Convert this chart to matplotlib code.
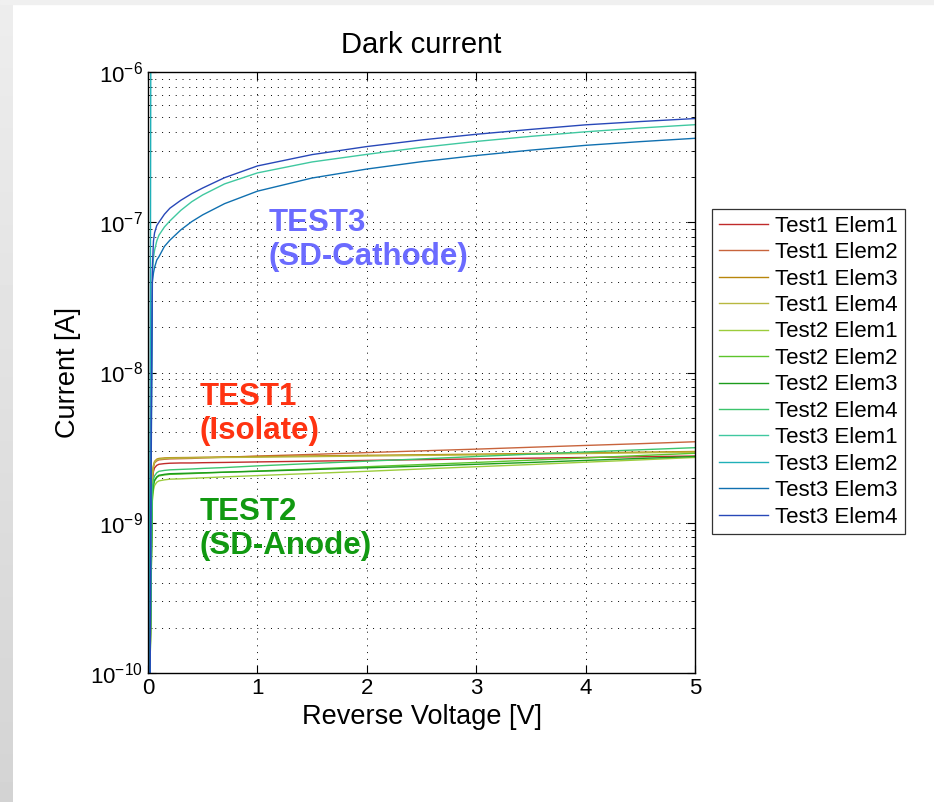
import numpy as np
import matplotlib
matplotlib.use('Agg')
import matplotlib.pyplot as plt
from matplotlib.patches import Rectangle
from matplotlib.ticker import LogLocator, NullFormatter, FixedLocator

plt.rcParams['font.family'] = ['Liberation Sans', 'DejaVu Sans']
plt.rcParams['mathtext.fontset'] = 'custom'
plt.rcParams['mathtext.rm'] = 'Liberation Sans'

# reverse voltage grid [V]
voltage = [0, 0.02, 0.03, 0.04, 0.05, 0.06, 0.08, 0.1, 0.15,
           0.2, 0.3, 0.4, 0.5, 0.7, 1, 1.5, 2, 2.5, 3, 3.5, 4, 4.5, 5]

# dark current [A] per element
test1_elem1 = [1e-11, 1.3e-10, 6e-10, 1.9e-9, 2.2e-9, 2.32e-9, 2.41e-9, 2.45e-9, 2.475e-9,
               2.49e-9, 2.50e-9, 2.50e-9, 2.51e-9, 2.52e-9, 2.54e-9, 2.57e-9, 2.60e-9, 2.63e-9, 2.66e-9, 2.69e-9, 2.72e-9, 2.75e-9, 2.78e-9]
test1_elem2 = [1e-11, 1.3e-10, 7e-10, 2.0e-9, 2.35e-9, 2.5e-9, 2.58e-9, 2.62e-9, 2.645e-9,
               2.66e-9, 2.67e-9, 2.68e-9, 2.70e-9, 2.73e-9, 2.78e-9, 2.85e-9, 2.93e-9, 3.01e-9, 3.09e-9, 3.18e-9, 3.27e-9, 3.36e-9, 3.46e-9]
test1_elem3 = [1e-11, 1.3e-10, 7e-10, 2.1e-9, 2.42e-9, 2.56e-9, 2.65e-9, 2.68e-9, 2.70e-9,
               2.71e-9, 2.715e-9, 2.72e-9, 2.73e-9, 2.74e-9, 2.76e-9, 2.785e-9, 2.81e-9, 2.835e-9, 2.86e-9, 2.89e-9, 2.92e-9, 2.95e-9, 2.98e-9]
test1_elem4 = [1e-11, 1.3e-10, 6.5e-10, 2.05e-9, 2.38e-9, 2.53e-9, 2.62e-9, 2.65e-9, 2.67e-9,
               2.69e-9, 2.695e-9, 2.70e-9, 2.71e-9, 2.72e-9, 2.73e-9, 2.755e-9, 2.78e-9, 2.805e-9, 2.83e-9, 2.86e-9, 2.89e-9, 2.92e-9, 2.95e-9]
test2_elem1 = [1e-11, 1.2e-10, 4.5e-10, 1.4e-9, 1.65e-9, 1.77e-9, 1.86e-9, 1.90e-9, 1.93e-9,
               1.95e-9, 1.96e-9, 1.975e-9, 1.99e-9, 2.02e-9, 2.06e-9, 2.13e-9, 2.20e-9, 2.28e-9, 2.36e-9, 2.44e-9, 2.53e-9, 2.62e-9, 2.72e-9]
test2_elem2 = [1e-11, 1.2e-10, 5e-10, 1.5e-9, 1.78e-9, 1.9e-9, 2.0e-9, 2.05e-9, 2.08e-9,
               2.10e-9, 2.11e-9, 2.125e-9, 2.14e-9, 2.17e-9, 2.21e-9, 2.28e-9, 2.36e-9, 2.44e-9, 2.52e-9, 2.61e-9, 2.70e-9, 2.80e-9, 2.90e-9]
test2_elem3 = [1e-11, 1.2e-10, 5e-10, 1.55e-9, 1.8e-9, 1.92e-9, 2.02e-9, 2.07e-9, 2.10e-9,
               2.12e-9, 2.13e-9, 2.14e-9, 2.15e-9, 2.17e-9, 2.20e-9, 2.26e-9, 2.32e-9, 2.38e-9, 2.45e-9, 2.52e-9, 2.60e-9, 2.68e-9, 2.76e-9]
test2_elem4 = [1e-11, 1.2e-10, 5.5e-10, 1.65e-9, 1.95e-9, 2.05e-9, 2.15e-9, 2.20e-9, 2.23e-9,
               2.25e-9, 2.265e-9, 2.28e-9, 2.30e-9, 2.33e-9, 2.39e-9, 2.48e-9, 2.57e-9, 2.66e-9, 2.76e-9, 2.86e-9, 2.96e-9, 3.06e-9, 3.16e-9]
test3_elem1 = [1e-11, 1.2e-10, 4e-9, 4.5e-8, 5.8e-8, 6.5e-8, 7.5e-8, 8.2e-8, 9.3e-8,
               1.02e-7, 1.20e-7, 1.37e-7, 1.52e-7, 1.80e-7, 2.13e-7, 2.52e-7, 2.83e-7, 3.15e-7, 3.45e-7, 3.73e-7, 4.00e-7, 4.24e-7, 4.46e-7]
test3_elem2 = [1e-11, 5e-9, 1e-4, 1e-4, 1e-4, 1e-4, 1e-4, 1e-4, 1e-4,
               1e-4, 1e-4, 1e-4, 1e-4, 1e-4, 1e-4, 1e-4, 1e-4, 1e-4, 1e-4, 1e-4, 1e-4, 1e-4, 1e-4]
test3_elem3 = [1e-11, 1.2e-10, 3e-9, 4.0e-8, 4.6e-8, 5.0e-8, 5.6e-8, 5.9e-8, 6.9e-8,
               7.6e-8, 8.9e-8, 1.01e-7, 1.12e-7, 1.33e-7, 1.61e-7, 1.97e-7, 2.26e-7, 2.53e-7, 2.78e-7, 3.02e-7, 3.25e-7, 3.44e-7, 3.62e-7]
test3_elem4 = [1e-11, 1.2e-10, 5e-9, 5.0e-8, 7.5e-8, 8.5e-8, 9.5e-8, 1.0e-7, 1.13e-7,
               1.24e-7, 1.40e-7, 1.55e-7, 1.69e-7, 1.98e-7, 2.37e-7, 2.82e-7, 3.19e-7, 3.53e-7, 3.85e-7, 4.15e-7, 4.45e-7, 4.68e-7, 4.90e-7]

labels = ['Test1 Elem1', 'Test1 Elem2', 'Test1 Elem3', 'Test1 Elem4',
          'Test2 Elem1', 'Test2 Elem2', 'Test2 Elem3', 'Test2 Elem4',
          'Test3 Elem1', 'Test3 Elem2', 'Test3 Elem3', 'Test3 Elem4']
series = [test1_elem1, test1_elem2, test1_elem3, test1_elem4,
          test2_elem1, test2_elem2, test2_elem3, test2_elem4,
          test3_elem1, test3_elem2, test3_elem3, test3_elem4]
colors = ['#c02a2a', '#c8643c', '#b8860b', '#b8b840',
          '#9ccc3c', '#5cc42c', '#1c9c1c', '#3cc46c',
          '#40c8a0', '#20b0b8', '#1070b0', '#2848b8']

fig = plt.figure(figsize=(9.34, 8.02), dpi=100)

# gray page border (left strip + top strip)
bg = fig.add_axes([0, 0, 13 / 934, 1])
grad = np.linspace(0.93, 0.83, 200).reshape(-1, 1)
bg.imshow(grad, cmap='gray', vmin=0, vmax=1, aspect='auto')
bg.axis('off')
fig.patches.append(Rectangle((0, 1 - 4 / 802), 1, 4 / 802, transform=fig.transFigure,
                             color='#f0f0f0', zorder=0))

ax = fig.add_axes([148 / 934, 1 - 673 / 802, (695 - 148) / 934, (673 - 72) / 802])

for y, lab, c in zip(series, labels, colors):
    ax.plot(voltage, y, color=c, lw=1.0, label=lab)

ax.set_yscale('log')
ax.set_xlim(0, 5)
ax.set_ylim(1e-10, 1e-6)
ax.xaxis.set_major_locator(FixedLocator([0, 1, 2, 3, 4, 5]))
ax.yaxis.set_major_locator(LogLocator(base=10, numticks=10))
ax.yaxis.set_minor_locator(LogLocator(base=10, subs=np.arange(2, 10), numticks=20))
ax.yaxis.set_minor_formatter(NullFormatter())

ax.grid(True, which='major', axis='x', color='k', lw=0.7, linestyle=(0, (1, 6)))
ax.grid(True, which='both', axis='y', color='k', lw=0.7, linestyle=(0, (1, 6)))

ax.tick_params(which='both', direction='in', top=True, right=True, labelsize=16)
ax.tick_params(which='major', length=6, width=0.8)
ax.tick_params(which='minor', length=3, width=0.6)
for sp in ax.spines.values():
    sp.set_linewidth(1.0)

ax.set_title('Dark current', fontsize=21, pad=14)
ax.set_xlabel('Reverse Voltage [V]', fontsize=19.5)
ax.set_ylabel('Current [A]', fontsize=19.5)
ax.xaxis.set_label_coords(0.5, (673 - 704) / 601)
ax.yaxis.set_label_coords((81 - 148) / 547, 0.5)

ax.text(1.1, 7.6e-8, 'TEST3\n(SD-Cathode)', color='#6b6bff', fontsize=22.5,
        fontweight='bold', va='center', ha='left', linespacing=1.2)
ax.text(0.475, 5.3e-9, 'TEST1\n(Isolate)', color='#ff3311', fontsize=22.5,
        fontweight='bold', va='center', ha='left', linespacing=1.2)
ax.text(0.475, 9.1e-10, 'TEST2\n(SD-Anode)', color='#119911', fontsize=22.5,
        fontweight='bold', va='center', ha='left', linespacing=1.2)

leg = ax.legend(loc='upper left', bbox_to_anchor=((712 - 148) / 547, (673 - 209) / 601),
                borderaxespad=0, fontsize=16, frameon=True, fancybox=False,
                handlelength=2.2, handletextpad=0.35, labelspacing=0.245, borderpad=0.3)
leg.get_frame().set_edgecolor('k')
leg.get_frame().set_linewidth(0.9)

fig.savefig('out.png', dpi=100)
